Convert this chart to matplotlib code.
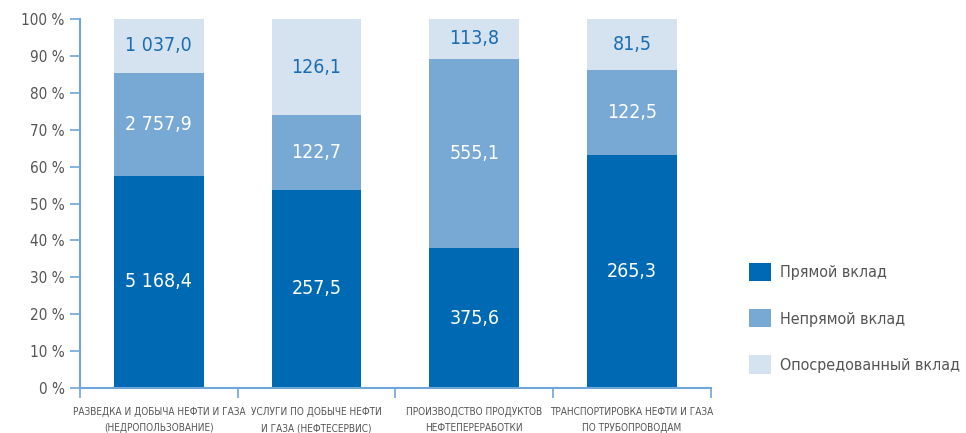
import matplotlib
matplotlib.use("Agg")
from matplotlib import pyplot as plt
from matplotlib.patches import Patch
import numpy as np

plt.rcParams['font.family'] = ['DejaVu Sans']
plt.rcParams['font.stretch'] = 'condensed'

categories = [
    "РАЗВЕДКА И ДОБЫЧА НЕФТИ И ГАЗА\n(НЕДРОПОЛЬЗОВАНИЕ)",
    "УСЛУГИ ПО ДОБЫЧЕ НЕФТИ\nИ ГАЗА (НЕФТЕСЕРВИС)",
    "ПРОИЗВОДСТВО ПРОДУКТОВ\nНЕФТЕПЕРЕРАБОТКИ",
    "ТРАНСПОРТИРОВКА НЕФТИ И ГАЗА\nПО ТРУБОПРОВОДАМ",
]
series = ["Прямой вклад", "Непрямой вклад", "Опосредованный вклад"]

# shares in % as drawn in the reference
direct_pct = [57.5, 53.7, 37.9, 63.1]
indirect_pct = [27.9, 20.3, 51.3, 23.1]
mediated_pct = [14.6, 26.0, 10.8, 13.8]

# printed values
direct_lbl = ["5 168,4", "257,5", "375,6", "265,3"]
indirect_lbl = ["2 757,9", "122,7", "555,1", "122,5"]
mediated_lbl = ["1 037,0", "126,1", "113,8", "81,5"]

colors = ["#0069b4", "#78a8d4", "#d5e2ef"]
text_colors = ["white", "white", "#1a6db3"]
axis_color = "#6fa6d8"

fig = plt.figure(figsize=(9.66, 4.33), dpi=100)
ax = fig.add_axes([0.0828, 0.104, 0.653, 0.852])

x = np.arange(len(categories))
bottom = np.zeros(len(categories))
for vals, lbls, c, tc in zip([direct_pct, indirect_pct, mediated_pct],
                             [direct_lbl, indirect_lbl, mediated_lbl],
                             colors, text_colors):
    vals = np.array(vals)
    ax.bar(x, vals, bottom=bottom, width=0.57, color=c, linewidth=0)
    for xi, b, v, l in zip(x, bottom, vals, lbls):
        ax.text(xi, b + v / 2, l, ha='center', va='center', color=tc, fontsize=14)
    bottom += vals

ax.set_xlim(-0.5, 3.5)
ax.set_ylim(0, 100)
ax.set_yticks(np.arange(0, 101, 10))
ax.set_yticklabels([f"{v} %" for v in range(0, 101, 10)])
ax.set_xticks(np.arange(-0.5, 4, 1))
ax.set_xticklabels([])
ax.set_xticks(x, minor=True)
ax.set_xticklabels(categories, minor=True, fontsize=7.2, color="#555555",
                   linespacing=1.7)
ax.tick_params(axis='x', which='minor', length=0, pad=14)
ax.tick_params(axis='x', which='major', length=7, color=axis_color, width=1.2)
ax.tick_params(axis='y', length=7, color=axis_color, width=1.2, labelsize=11,
               labelcolor="#555555", pad=4)

for s in ['top', 'right']:
    ax.spines[s].set_visible(False)
for s in ['left', 'bottom']:
    ax.spines[s].set_color(axis_color)
    ax.spines[s].set_linewidth(1.5)

handles = [Patch(facecolor=c, edgecolor='none') for c in colors]
fig.legend(handles, series, loc='center left', bbox_to_anchor=(0.76, 0.265),
           frameon=False, fontsize=11.5, labelcolor="#555555",
           handlelength=1.4, handleheight=1.4, labelspacing=1.75, handletextpad=0.6)

fig.savefig("out.png", dpi=100)
